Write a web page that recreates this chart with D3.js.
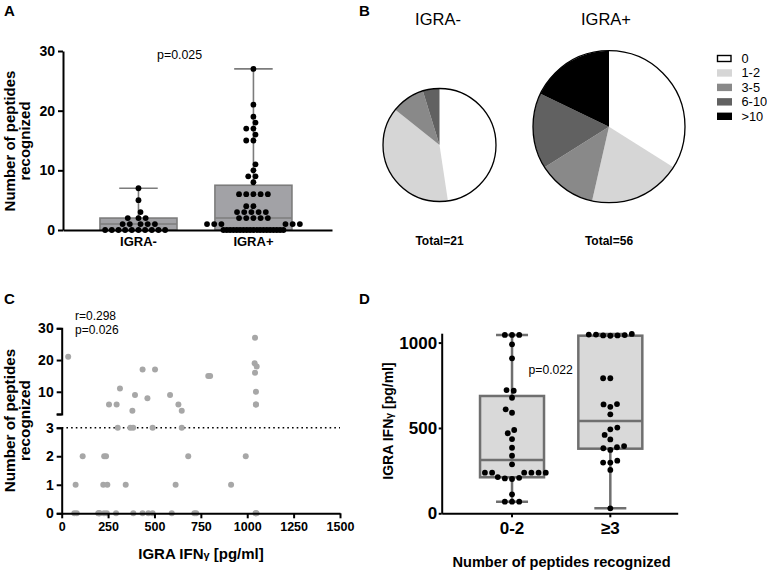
<!DOCTYPE html>
<html><head><meta charset="utf-8">
<script src="https://cdn.jsdelivr.net/npm/d3@7"></script>
<style>
body{margin:0;background:#fff}
svg{display:block}
text{font-family:"Liberation Sans",Arial,Helvetica,sans-serif;fill:#000}
</style>
</head><body>
<svg id="chart" width="767" height="571"></svg>
<script>
// ---------------- DATA ----------------
// Panel A: number of peptides recognized per subject
const aGroups = ["IGRA-", "IGRA+"];
const aNeg = [0,0,0,0,0,0,0,0,0,0, 1,1,1,1,1, 2,2,2, 3, 5, 7];
const aPos = [0,0,0,0,0,0,0,0,0,0,0,0,0,0,0,0,0,0,0,
  1,1,1,1,1,1, 2,2,2,2,2, 3,3,3,3,3, 4,4, 6,6,6,6,6, 8, 9, 9, 10,
  11, 15, 15, 16, 17, 17, 18, 19, 21, 27];
const aTicks = [0, 10, 20, 30];
// Panel B: bins of number of peptides recognized
const binLabels = ["0", "1-2", "3-5", "6-10", ">10"];
const binUpper = [0, 2, 5, 10, Infinity];
const pieTitles = ["IGRA-", "IGRA+"];
// Panel C: IGRA IFNγ (pg/ml) vs number of peptides
const cIfn = [35, 436, 503, 790, 800, 1042, 1040, 1051, 1042, 1047, 1047, 1047, 314, 395, 462, 584, 255, 296, 381, 629, 647,
  302, 370, 385, 490, 647,
  113, 229, 239, 682, 992,
  75, 224, 246, 345, 614, 913,
  68, 81, 197, 200, 203, 205, 228, 243, 293, 386, 436, 467, 490, 593, 715, 725, 1045, 1047, 1050];
const cPep = [21, 17, 17, 15, 15, 27, 19, 18, 16, 10, 6, 6, 11, 9, 8, 9, 6, 6, 4, 6, 4,
  3, 3, 3, 3, 3,
  2, 2, 2, 2, 2,
  1, 1, 1, 1, 1, 1,
  0,0,0,0,0,0,0,0,0,0,0,0,0,0,0,0,0,0,0];
const cXTicks = [0, 250, 500, 750, 1000, 1250, 1500];
const cLowTicks = [0, 1, 2, 3];
const cHighTicks = [3, 10, 20, 30];
// Panel D: IGRA IFNγ by peptide group
const dGroups = ["0-2", "≥3"];
const dLow = [1045, 1045, 1045, 990, 908, 718, 722, 677, 609, 589, 488, 469, 435, 384, 337, 287,
  238, 238, 238, 238, 238, 238, 201, 204, 208, 212, 111, 68, 68, 68];
const dHigh = [1040, 1042, 1042, 1044, 1047, 1047, 1051, 791, 791, 640, 624, 638, 580, 502, 492, 459, 433,
  394, 381, 371, 387, 297, 308, 297, 254, 29];
const dTicks = [0, 500, 1000];

// ---------------- HELPERS ----------------
const svg = d3.select("#chart");
const FONT = '"Liberation Sans",Arial,sans-serif';
const fmt = d3.format("d");

function pq(sorted, p) { // Prism-style quantile (n+1)p
  const n = sorted.length, h = (n + 1) * p;
  if (h <= 1) return sorted[0];
  if (h >= n) return sorted[n - 1];
  const lo = Math.floor(h);
  return sorted[lo - 1] + (h - lo) * (sorted[lo] - sorted[lo - 1]);
}
function stats(vals) {
  const s = vals.slice().sort((a, b) => a - b);
  return { min: s[0], max: s[s.length - 1], q1: pq(s, 0.25), med: pq(s, 0.5), q3: pq(s, 0.75) };
}
function swarm(values, yScale, D, Dx, maxHalf) {
  const idx = values.map((v, i) => i).sort((a, b) => values[a] - values[b]);
  const counts = d3.rollup(values, v => v.length, d => d);
  const placed = [], out = new Array(values.length);
  let lastSign = 1;
  for (const i of idx) {
    const v = values[i], y = yScale(v), n = counts.get(v);
    const Dg = (n - 1) * D > 2 * maxHalf ? 2 * maxHalf / (n - 1) : D;
    const iv = [];
    for (const p of placed) {
      const dd = p.v === v ? Dg : Dx;
      const dy = Math.abs(p.y - y);
      if (dy < dd) { const w = Math.sqrt(dd * dd - dy * dy); iv.push([p.x - w, p.x + w]); }
    }
    const cands = [0];
    iv.forEach(([a, b]) => cands.push(a, b));
    cands.sort((a, b) => {
      const d = Math.abs(a) - Math.abs(b);
      if (Math.abs(d) > 1e-6) return d;
      return (Math.sign(a) === -lastSign ? 0 : 1) - (Math.sign(b) === -lastSign ? 0 : 1);
    });
    let x = 0;
    for (const c of cands) {
      if (!iv.some(([a, b]) => c > a + 1e-6 && c < b - 1e-6)) { x = c; break; }
    }
    if (x !== 0) lastSign = Math.sign(x);
    placed.push({ x, y, v });
    out[i] = x;
  }
  return out;
}
function styleAxis(g, size, sw) {
  g.select(".domain").attr("stroke", "#000").attr("stroke-width", sw);
  g.selectAll(".tick line").attr("stroke", "#000").attr("stroke-width", sw);
  g.selectAll(".tick text").attr("font-family", FONT).attr("font-weight", "bold")
    .attr("font-size", size).attr("fill", "#000");
}
function boxPlot(g, x, y, groups, data, o) {
  groups.forEach((grp, gi) => {
    const vals = data[gi], st = stats(vals);
    const x0 = x(grp), bw = x.bandwidth(), cx = x0 + bw / 2, cw = bw * 0.5;
    g.append("rect").attr("x", x0).attr("y", y(st.q3)).attr("width", bw)
      .attr("height", y(st.q1) - y(st.q3)).attr("fill", o.fill)
      .attr("stroke", o.stroke).attr("stroke-width", o.sw);
    const wl = [[cx, y(st.q3), cx, y(st.max)], [cx, y(st.q1), cx, y(st.min)],
      [cx - cw / 2, y(st.max), cx + cw / 2, y(st.max)], [cx - cw / 2, y(st.min), cx + cw / 2, y(st.min)],
      [x0, y(st.med), x0 + bw, y(st.med)]];
    wl.forEach(l => g.append("line").attr("x1", l[0]).attr("y1", l[1]).attr("x2", l[2]).attr("y2", l[3])
      .attr("stroke", o.stroke).attr("stroke-width", o.sw));
    const offs = swarm(vals, y, o.D, o.Dx, o.maxHalf);
    g.selectAll(null).data(vals).join("circle")
      .attr("cx", (d, i) => cx + offs[i]).attr("cy", d => y(d)).attr("r", o.r).attr("fill", "#000");
  });
}
function label(x, y, txt, size, weight, anchor) {
  return svg.append("text").attr("x", x).attr("y", y).attr("font-size", size)
    .attr("font-weight", weight || "normal").attr("text-anchor", anchor || "start").text(txt);
}

// ---------------- PANEL A ----------------
const gA = svg.append("g");
const yA = d3.scaleLinear().domain([0, 30]).range([230, 51]);
const xA = d3.scaleBand().domain(aGroups).range([63, 332]).paddingInner(0.33).paddingOuter(0.335).align(0.48);
boxPlot(gA, xA, yA, aGroups, [aNeg, aPos], { fill: "#a2a2a6", stroke: "#7c7c7c", sw: 1.6, D: 7.2, Dx: 6.3, maxHalf: 30, r: 2.9 });
gA.append("g").attr("transform", "translate(63,0)")
  .call(d3.axisLeft(yA).tickValues(aTicks).tickFormat(fmt).tickSize(5).tickSizeOuter(0).tickPadding(3))
  .call(g => styleAxis(g, 14, 2));
gA.append("g").attr("transform", "translate(0,230)")
  .call(d3.axisBottom(xA).tickSize(0).tickSizeOuter(0).tickPadding(7))
  .call(g => styleAxis(g, 13, 2));
label(4, 16, "A", 15, "bold");
label(157, 59, "p=0.025", 12.4);
[["Number of peptides", 14.5], ["recognized", 29.5]].forEach(([t, bx]) =>
  svg.append("text").attr("transform", `translate(${bx},141) rotate(-90)`).attr("text-anchor", "middle")
    .attr("font-size", 15).attr("font-weight", "bold").text(t));

// ---------------- PANEL B ----------------
const binIndex = v => binUpper.findIndex(u => v <= u);
const counts = [aNeg, aPos].map(arr => binLabels.map((b, bi) => arr.filter(v => binIndex(v) === bi).length));
const binColors = ["#ffffff", "#d6d6d6", "#898989", "#616161", "#000000"];
const pieLayout = [{ cx: 439.5, cy: 145, r: 56.5, tx: 438, totY: 245 }, { cx: 609, cy: 126.7, r: 76, tx: 606, totY: 245 }];
const pie = d3.pie().sort(null).value(d => d);
counts.forEach((cnt, pi) => {
  const L = pieLayout[pi];
  const g = svg.append("g").attr("transform", `translate(${L.cx},${L.cy})`);
  const arc = d3.arc().innerRadius(0).outerRadius(L.r);
  g.selectAll("path").data(pie(cnt)).join("path").attr("d", arc).attr("fill", (d, i) => binColors[i]);
  g.append("circle").attr("r", L.r).attr("fill", "none").attr("stroke", "#000").attr("stroke-width", 1.3);
  label(L.tx, 25, pieTitles[pi], 16.5, "normal", "middle");
  label(L.cx, L.totY, "Total=" + d3.sum(cnt), 12, "bold", "middle");
});
const legY = d3.scalePoint().domain(binLabels).range([58.5, 116.3]);
binLabels.forEach((b, i) => {
  svg.append("rect").attr("x", i === 0 ? 717.5 : 717).attr("y", legY(b) - (i === 0 ? 3 : 3.7))
    .attr("width", i === 0 ? 13.5 : 15).attr("height", i === 0 ? 6 : 7.4)
    .attr("fill", binColors[i]).attr("stroke", i === 0 ? "#000" : "none").attr("stroke-width", 1.4);
  label(741.5, legY(b) + 4.5, b, 12.8);
});
label(359, 16, "B", 15, "bold");

// ---------------- PANEL C ----------------
const gC = svg.append("g");
const xC = d3.scaleLinear().domain([0, 1500]).range([61.7, 340]);
const yLow = d3.scaleLinear().domain([0, 3]).range([513.3, 427.7]);
const yHigh = d3.scaleLinear().domain([3, 30]).range([414, 328.3]);
const yC = v => v > 3 ? yHigh(v) : yLow(v);
gC.append("line").attr("x1", xC(0)).attr("x2", xC(1500)).attr("y1", yLow(3)).attr("y2", yLow(3))
  .attr("stroke", "#000").attr("stroke-width", 1.6).attr("stroke-dasharray", "1.6,3.1");
gC.selectAll("circle").data(cIfn).join("circle")
  .attr("cx", d => xC(d)).attr("cy", (d, i) => yC(cPep[i])).attr("r", 3).attr("fill", "#a7a7a7");
gC.append("g").attr("transform", "translate(61.7,0)")
  .call(d3.axisLeft(yLow).tickValues(cLowTicks).tickFormat(fmt).tickSize(5).tickSizeOuter(5).tickPadding(3))
  .call(g => styleAxis(g, 14, 2));
gC.append("g").attr("transform", "translate(61.7,0)")
  .call(d3.axisLeft(yHigh).tickValues(cHighTicks).tickSize(5).tickSizeOuter(5).tickPadding(3)
    .tickFormat(d => d === 3 ? "" : fmt(d)))
  .call(g => styleAxis(g, 14, 2));
gC.append("g").attr("transform", "translate(0,513.3)")
  .call(d3.axisBottom(xC).tickValues(cXTicks).tickFormat(fmt).tickSize(5).tickSizeOuter(0).tickPadding(4))
  .call(g => styleAxis(g, 12.5, 2));
label(4, 304, "C", 15, "bold");
label(75, 319.5, "r=0.298", 12);
label(75, 333.5, "p=0.026", 12);
[["Number of peptides", 14.5], ["recognized", 29.5]].forEach(([t, bx]) =>
  svg.append("text").attr("transform", `translate(${bx},420.5) rotate(-90)`).attr("text-anchor", "middle")
    .attr("font-size", 15.3).attr("font-weight", "bold").text(t));
{
  const t = label(201, 559, "IGRA IFN", 15, "bold", "middle");
  t.append("tspan").attr("font-size", 11).text("γ");
  t.append("tspan").text(" [pg/ml]");
}

// ---------------- PANEL D ----------------
const gD = svg.append("g");
const yD = d3.scaleLinear().domain([0, 1055]).range([513.3, 333.2]);
const xD = d3.scaleBand().domain(dGroups).range([441.7, 677.7]).paddingInner(0.349).paddingOuter(0.375).align(0.52);
boxPlot(gD, xD, yD, dGroups, [dLow, dHigh], { fill: "#d9d9d9", stroke: "#6f6f6f", sw: 2.5, D: 7.2, Dx: 7.2, maxHalf: 30, r: 2.9 });
gD.append("g").attr("transform", "translate(441.7,0)")
  .call(d3.axisLeft(yD).tickValues(dTicks).tickFormat(fmt).tickSize(3).tickSizeOuter(0).tickPadding(1.5))
  .call(g => styleAxis(g, 17, 2));
gD.append("g").attr("transform", "translate(0,513.3)")
  .call(d3.axisBottom(xD).tickSize(4).tickSizeOuter(0).tickPadding(5))
  .call(g => styleAxis(g, 17, 2));
label(359, 304, "D", 15, "bold");
label(528.5, 373.5, "p=0.022", 12.2);
{
  const t = svg.append("text").attr("transform", "translate(393,421) rotate(-90)").attr("text-anchor", "middle")
    .attr("font-size", 14).attr("font-weight", "bold").text("IGRA IFN");
  t.append("tspan").attr("font-size", 10.5).text("γ");
  t.append("tspan").text(" [pg/ml]");
}
label(561.5, 566.5, "Number of peptides recognized", 14.6, "bold", "middle");
</script>
</body></html>
